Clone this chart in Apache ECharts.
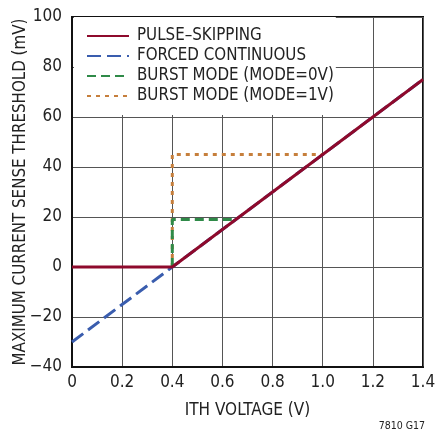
<!DOCTYPE html>
<html><head><meta charset="utf-8">
<script src="https://cdn.jsdelivr.net/npm/echarts@6/dist/echarts.min.js"></script>
<style>html,body{margin:0;padding:0;background:#fff}#c{width:435px;height:434px}</style>
</head><body><div id="c"></div>
<script>
const seriesNames = ['PULSE\u2013SKIPPING', 'FORCED CONTINUOUS', 'BURST MODE (MODE=0V)', 'BURST MODE (MODE=1V)'];
const pulseSkipping = [[0, 0], [0.4, 0], [1.4, 75]];
const forcedContinuous = [[0, -30], [0.4, 0], [1.4, 75]];
const burstMode0V = [[0.4, 0], [0.4, 19], [0.653, 19]];
const burstMode1V = [[0.4, 0], [0.4, 45], [1.0, 45]];
const xTicks = {min: 0, max: 1.4, interval: 0.2};
const yTicks = {min: -40, max: 100, interval: 20};
const xTitle = 'ITH VOLTAGE (V)';
const yTitle = 'MAXIMUM CURRENT SENSE THRESHOLD (mV)';
const footnote = '7810 G17';

const FONT = '"Liberation Sans Narrow", "DejaVu Sans Condensed", sans-serif';
const chart = echarts.init(document.getElementById('c'), null, {renderer: 'canvas'});
const txt = '#222';
chart.setOption({
  animation: false,
  backgroundColor: '#fff',
  grid: {left: 72, top: 17, width: 351, height: 350, show: true, borderColor: '#111', borderWidth: 2,
         backgroundColor: 'transparent', containLabel: false, outerBoundsMode: 'none'},
  xAxis: {
    type: 'value', min: xTicks.min, max: xTicks.max, interval: xTicks.interval,
    name: xTitle, nameLocation: 'middle', nameGap: 35, nameMoveOverlap: false,
    nameTextStyle: {fontFamily: FONT, fontSize: 17, color: txt},
    axisLine: {show: true, onZero: false, lineStyle: {color: '#111', width: 2}},
    axisTick: {show: false},
    axisLabel: {fontFamily: FONT, fontSize: 17, color: txt, margin: 7,
      formatter: v => Math.abs(v) < 1e-9 ? '0' : (+v).toFixed(1)},
    splitLine: {show: true, lineStyle: {color: '#555', width: 1}}
  },
  yAxis: {
    type: 'value', min: yTicks.min, max: yTicks.max, interval: yTicks.interval,
    name: yTitle, nameLocation: 'middle', nameGap: 43, nameMoveOverlap: false,
    nameTextStyle: {fontFamily: FONT, fontSize: 16.8, color: txt},
    axisLine: {show: true, onZero: false, lineStyle: {color: '#111', width: 2}},
    axisTick: {show: false},
    axisLabel: {fontFamily: FONT, fontSize: 17, color: txt, margin: 10,
      formatter: v => String(Math.round(v)).replace('-', '\u2212')},
    splitLine: {show: true, lineStyle: {color: '#555', width: 1}}
  },
  legend: {
    data: seriesNames, orient: 'vertical', left: 74, top: 17,
    backgroundColor: '#fff', padding: [9, 2, 9, 12], itemGap: 0,
    itemWidth: 42, itemHeight: 16,
    itemStyle: {opacity: 0},
    textStyle: {fontFamily: FONT, fontSize: 16.8, color: txt, lineHeight: 20, padding: [0, 0, 0, 3]}
  },
  graphic: [{type: 'text', right: 10, bottom: 2, style: {text: footnote, fontFamily: FONT, fontSize: 10.5, fill: txt}}],
  series: [
    {name: seriesNames[1], type: 'line', data: forcedContinuous, symbol: 'none', z: 2,
     lineStyle: {color: '#3a5dae', width: 3, type: [14, 6]}, itemStyle: {color: '#3a5dae'}},
    {name: seriesNames[3], type: 'line', data: burstMode1V, symbol: 'none', z: 3,
     lineStyle: {color: '#c67f3c', width: 3, type: [4, 5]}, itemStyle: {color: '#c67f3c'}},
    {name: seriesNames[2], type: 'line', data: burstMode0V, symbol: 'none', z: 4,
     lineStyle: {color: '#2f8a48', width: 3, type: [9, 5]}, itemStyle: {color: '#2f8a48'}},
    {name: seriesNames[0], type: 'line', data: pulseSkipping, symbol: 'none', z: 5,
     lineStyle: {color: '#8e0a2c', width: 3}, itemStyle: {color: '#8e0a2c'}}
  ]
});
</script></body></html>
